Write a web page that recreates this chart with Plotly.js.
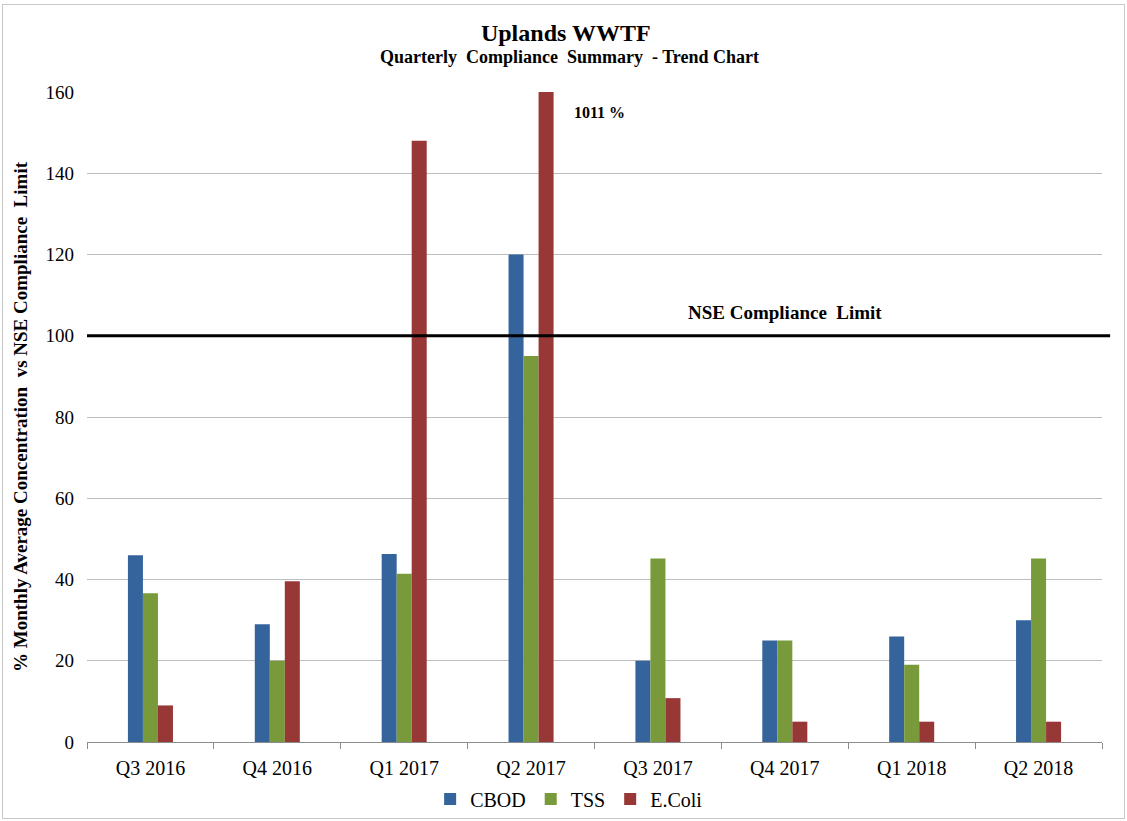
<!DOCTYPE html>
<html>
<head>
<meta charset="utf-8">
<script src="https://cdn.plot.ly/plotly-3.0.1.min.js"></script>
<style>
  html, body { margin: 0; padding: 0; background: #fff; }
  #wrap { position: relative; width: 1127px; height: 821px; }
  #frame { position: absolute; left: 2px; top: 4px; width: 1123px; height: 815px; box-sizing: border-box; border: 1px solid #c8c8c8; pointer-events: none; z-index: 5; }
  #chart { position: absolute; left: 0; top: 0; width: 1127px; height: 821px; }
</style>
</head>
<body>
<div id="wrap"><div id="chart"></div><div id="frame"></div></div>
<script>
const quarters = ["Q3 2016", "Q4 2016", "Q1 2017", "Q2 2017", "Q3 2017", "Q4 2017", "Q1 2018", "Q2 2018"];
const cbod = [46, 29, 46.3, 120, 20, 25, 26, 30];
const tss = [36.6, 20, 41.4, 95, 45.2, 25, 19, 45.2];
const ecoli = [9, 39.6, 148, 1011, 10.8, 5, 5, 5];
const complianceLimit = 100;
const ecoliPeakLabel = "1011 %";

const serif = "Liberation Serif, Times New Roman, serif";

const traces = [
  { type: "bar", name: "CBOD", x: quarters, y: cbod, marker: { color: "#35649C" } },
  { type: "bar", name: "TSS", x: quarters, y: tss, marker: { color: "#789A3A" } },
  { type: "bar", name: "E.Coli", x: quarters, y: ecoli, marker: { color: "#973836" } }
];

const layout = {
  width: 1127,
  height: 821,
  margin: { l: 87, r: 25, t: 92, b: 79 },
  paper_bgcolor: "#ffffff",
  plot_bgcolor: "#ffffff",
  barmode: "group",
  bargap: 0.645,
  bargroupgap: 0,
  showlegend: true,
  font: { family: serif, color: "#000" },
  title: {
    text: "<b>Uplands WWTF</b>",
    font: { family: serif, size: 24, color: "#000" },
    x: 0.502, xref: "container", xanchor: "center",
    y: 1 - 33 / 821, yref: "container", yanchor: "middle"
  },
  xaxis: {
    type: "category",
    tickson: "boundaries",
    ticks: "outside",
    ticklen: 6,
    tickcolor: "#8c8c8c",
    showline: true,
    linecolor: "#8c8c8c",
    linewidth: 1,
    showgrid: false,
    ticklabelstandoff: 8,
    tickfont: { family: serif, size: 20, color: "#000" },
    automargin: false
  },
  yaxis: {
    range: [0, 160],
    dtick: 20,
    showgrid: true,
    gridcolor: "#bdbdbd",
    gridwidth: 1,
    zeroline: false,
    showline: false,
    ticks: "",
    ticklabelstandoff: 12,
    tickfont: { family: serif, size: 19, color: "#000" },
    title: {
      text: "<b>% Monthly Average Concentration  vs NSE Compliance  Limit</b>",
      font: { family: serif, size: 19, color: "#000" },
      standoff: 12
    },
    automargin: false
  },
  legend: {
    orientation: "h",
    xref: "container", yref: "container",
    x: 0.505, xanchor: "center",
    y: 1 - 799 / 821, yanchor: "middle",
    font: { family: serif, size: 20, color: "#000" },
    itemwidth: 30,
    tracegroupgap: 0,
    traceorder: "normal"
  },
  shapes: [
    {
      type: "line", xref: "paper", yref: "y",
      x0: 0, x1: 1.008, y0: complianceLimit, y1: complianceLimit,
      line: { color: "#000", width: 3 }
    }
  ],
  annotations: [
    {
      text: "<b>Quarterly  Compliance  Summary  - Trend Chart</b>",
      xref: "paper", yref: "paper", x: 0.475, y: (742 - 57) / 650,
      showarrow: false, font: { family: serif, size: 18, color: "#000" },
      xanchor: "center", yanchor: "middle"
    },
    {
      text: "<b>NSE Compliance  Limit</b>",
      xref: "x", yref: "y", x: "Q4 2017", y: complianceLimit,
      xshift: 0, yshift: 23,
      showarrow: false, font: { family: serif, size: 19, color: "#000" },
      xanchor: "center", yanchor: "middle"
    },
    {
      text: "<b>" + ecoliPeakLabel + "</b>",
      xref: "x", yref: "y", x: "Q2 2017", y: 160,
      xshift: 68, yshift: -20,
      showarrow: false, font: { family: serif, size: 16, color: "#000" },
      xanchor: "center", yanchor: "middle"
    }
  ]
};

Plotly.newPlot("chart", traces, layout, { displayModeBar: false, responsive: false });
</script>
</body>
</html>
